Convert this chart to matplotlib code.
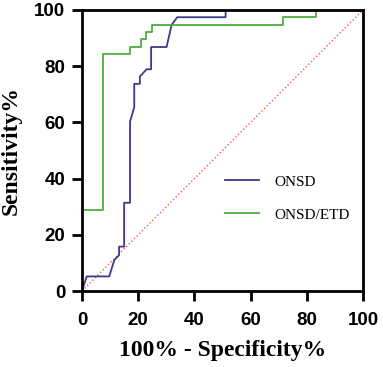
import matplotlib.pyplot as plt

# ROC points (100% - specificity, sensitivity)
onsd_x = [0, 1.7, 9.7, 11.5, 13.2, 13.2, 15.0, 15.0, 17.1, 17.1, 18.6, 18.6, 20.6, 20.6, 23.0, 24.6, 24.6, 30.1, 31.9, 33.9, 51.1, 51.1, 100]
onsd_y = [0, 5.2, 5.2, 11.0, 12.8, 15.8, 15.8, 31.4, 31.4, 60.3, 65.4, 73.7, 73.7, 76.3, 78.9, 78.9, 86.8, 86.8, 94.7, 97.4, 97.4, 100, 100]

etd_x = [0, 0, 7.4, 7.4, 17.1, 17.1, 20.9, 20.9, 22.8, 22.8, 24.8, 24.8, 71.6, 71.6, 83.3, 83.3, 100]
etd_y = [0, 28.9, 28.9, 84.2, 84.2, 86.8, 86.8, 89.5, 89.5, 92.1, 92.1, 94.7, 94.7, 97.4, 97.4, 100, 100]

ticks = [0, 20, 40, 60, 80, 100]

fig = plt.figure(figsize=(3.83, 3.67), dpi=100)
ax = fig.add_axes([0.214, 0.207, 0.734, 0.766])

ax.plot([0, 100], [0, 100], color='#f05a50', linestyle=':', linewidth=1.0)
ax.plot(onsd_x, onsd_y, color='#3b3a8c', linewidth=1.3, label='ONSD')
ax.plot(etd_x, etd_y, color='#4caf3a', linewidth=1.3, label='ONSD/ETD')

ax.set_xlim(0, 100)
ax.set_ylim(0, 100)
ax.set_xticks(ticks)
ax.set_yticks(ticks)
for s in ax.spines.values():
    s.set_linewidth(2)
ax.tick_params(width=2, length=7, direction='out', pad=5)
ax.tick_params(axis='x', pad=8)
for lab in ax.get_xticklabels() + ax.get_yticklabels():
    lab.set_family('Liberation Sans')
    lab.set_fontweight('bold')
    lab.set_fontsize(13.5)

ax.set_xlabel('100% - Specificity%', family='Liberation Serif', fontweight='bold', fontsize=17, labelpad=8)
ax.set_ylabel('Sensitivity%', family='Liberation Serif', fontweight='bold', fontsize=17, labelpad=9)

ax.legend(loc='center left', bbox_to_anchor=(0.46, 0.33), frameon=False,
          prop={'family': 'Liberation Serif', 'size': 11}, handlelength=2.2,
          handletextpad=1.0, labelspacing=1.25)

fig.savefig('out.png', dpi=100)
